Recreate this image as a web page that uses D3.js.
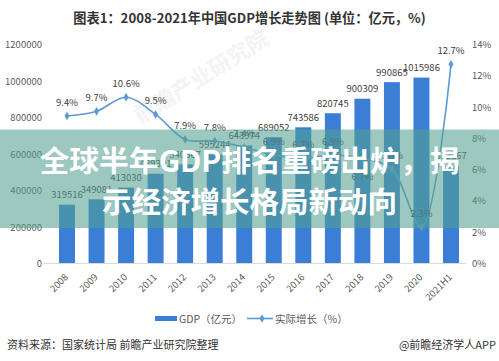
<!DOCTYPE html>
<html>
<head>
  <meta charset="UTF-8">
  <title>GDP</title>
  <script src="https://cdn.jsdelivr.net/npm/d3@7"></script>
  <style>
    body { margin: 0; background: #fff; }
    svg { display: block; font-family: "Noto Sans CJK SC", "Noto Sans", sans-serif; }
  </style>
</head>
<body>
<svg></svg>
<script>
  // data
  let years = ["2008", "2009", "2010", "2011", "2012", "2013", "2014", "2015", "2016", "2017", "2018", "2019", "2020", "2021H1"];
  let gdp = [319516, 349081, 413030, 489301, 540367, 595244, 643974, 689052, 743586, 820745, 900309, 990865, 1015986, 532167];
  let growth = [9.4, 9.7, 10.6, 9.5, 7.9, 7.8, 7.4, 6.9, 6.7, 6.9, 6.7, 6.0, 2.3, 12.7];
  let leftTicks = [0, 200000, 400000, 600000, 800000, 1000000, 1200000];
  let rightTicks = [0, 2, 4, 6, 8, 10, 12, 14];

  let width = 499, height = 361;
  let svg = d3.select("svg").attr("width", width).attr("height", height);

  let x = d3.scalePoint().domain(years).range([67, 451]);
  let barW = x.step() * 0.54;
  let yL = d3.scaleLinear().domain([0, 1200000]).range([263, 44]);
  let yR = d3.scaleLinear().domain([0, 14]).range([263, 44]);

  let barColor = "#3a7ed6", lineColor = "#5b9bd5";

  // title
  svg.append("text")
    .attr("x", 249.5).attr("y", 17.5)
    .attr("text-anchor", "middle").attr("dominant-baseline", "central")
    .style("font-size", "13.2px").style("font-weight", "bold").style("fill", "#333")
    .text("图表1：2008-2021年中国GDP增长走势图 (单位：亿元，%)");

  // faint watermark
  svg.append("text")
    .attr("transform", "translate(200,75) rotate(-32)")
    .attr("text-anchor", "middle").attr("dominant-baseline", "central")
    .style("font-size", "22px").style("font-weight", "bold").style("fill", "#f2f4f6")
    .text("前瞻产业研究院");

  // axes
  svg.append("g")
    .selectAll("text").data(leftTicks).enter().append("text")
    .attr("x", 42).attr("y", d => yL(d))
    .attr("text-anchor", "end").attr("dominant-baseline", "central")
    .style("font-size", "9.5px").style("fill", "#595959")
    .text(d => d);

  svg.append("g")
    .selectAll("text").data(rightTicks).enter().append("text")
    .attr("x", 472).attr("y", d => yR(d))
    .attr("dominant-baseline", "central")
    .style("font-size", "9.5px").style("fill", "#595959")
    .text(d => d + "%");

  svg.append("line")
    .attr("x1", 44).attr("x2", 466)
    .attr("y1", yL(0) + 0.5).attr("y2", yL(0) + 0.5)
    .style("stroke", "#d9d9d9");

  svg.append("g")
    .selectAll("text").data(years).enter().append("text")
    .attr("transform", d => "translate(" + (x(d) - 1) + ",275) rotate(-45)")
    .attr("text-anchor", "end").attr("dominant-baseline", "central")
    .style("font-size", "9.5px").style("fill", "#595959")
    .text(d => d);

  // bars
  svg.append("g")
    .selectAll("rect").data(years).enter().append("rect")
    .attr("x", d => x(d) - barW / 2)
    .attr("width", barW)
    .attr("y", (d, i) => yL(gdp[i]))
    .attr("height", (d, i) => yL(0) - yL(gdp[i]))
    .style("fill", barColor);

  svg.append("g")
    .selectAll("text").data(years).enter().append("text")
    .attr("x", d => x(d))
    .attr("y", (d, i) => yL(gdp[i]) - 10.5)
    .attr("text-anchor", "middle").attr("dominant-baseline", "central")
    .style("font-size", "9.5px").style("fill", "#404040")
    .text((d, i) => gdp[i]);

  // growth line
  let line = d3.line()
    .x((d, i) => x(years[i]))
    .y(d => yR(d))
    .curve(d3.curveCatmullRom.alpha(0.5));

  svg.append("path")
    .datum(growth)
    .attr("d", line)
    .style("fill", "none").style("stroke", lineColor).style("stroke-width", 1.6);

  svg.append("g")
    .selectAll("path").data(growth).enter().append("path")
    .attr("transform", (d, i) => "translate(" + x(years[i]) + "," + yR(d) + ")")
    .attr("d", d3.symbol().type(d3.symbolDiamond).size(22))
    .style("fill", lineColor);

  svg.append("g")
    .selectAll("text").data(growth).enter().append("text")
    .attr("x", (d, i) => x(years[i]))
    .attr("y", (d, i) => years[i] == "2018" ? yR(d) + 18 : yR(d) - 14)
    .attr("text-anchor", "middle").attr("dominant-baseline", "central")
    .style("font-size", "9.5px").style("fill", "#404040")
    .text(d => d.toFixed(1) + "%");

  // legend
  let lg = svg.append("g");
  lg.append("rect").attr("x", 155).attr("y", 316).attr("width", 22).attr("height", 5).style("fill", barColor);
  lg.append("text").attr("x", 179).attr("y", 318.5).attr("dominant-baseline", "central")
    .style("font-size", "10.5px").style("fill", "#595959").text("GDP（亿元）");
  lg.append("line").attr("x1", 247).attr("x2", 273).attr("y1", 318.5).attr("y2", 318.5)
    .style("stroke", lineColor).style("stroke-width", 1.6);
  lg.append("path").attr("transform", "translate(262,318.5)")
    .attr("d", d3.symbol().type(d3.symbolDiamond).size(22)).style("fill", lineColor);
  lg.append("text").attr("x", 275).attr("y", 318.5).attr("dominant-baseline", "central")
    .style("font-size", "10.5px").style("fill", "#595959").text("实际增长（%）");

  // source line
  svg.append("text").attr("x", 7).attr("y", 344).attr("dominant-baseline", "central")
    .style("font-size", "11px").style("fill", "#333").text("资料来源：国家统计局 前瞻产业研究院整理");
  svg.append("text").attr("x", 496).attr("y", 344).attr("text-anchor", "end").attr("dominant-baseline", "central")
    .style("font-size", "11px").style("fill", "#333").text("@前瞻经济学人APP");

  // headline band over the chart
  svg.append("rect")
    .attr("x", 0).attr("y", 129.5).attr("width", width).attr("height", 98.5)
    .style("fill", "rgb(84,161,144)").style("fill-opacity", 0.58);

  let head = ["全球半年GDP排名重磅出炉，揭", "示经济增长格局新动向"];
  let headLen = [420, 295];
  svg.append("g")
    .selectAll("text").data(head).enter().append("text")
    .attr("x", 249.5).attr("y", (d, i) => 159 + i * 41)
    .attr("text-anchor", "middle").attr("dominant-baseline", "central")
    .attr("textLength", (d, i) => headLen[i]).attr("lengthAdjust", "spacingAndGlyphs")
    .style("font-size", "29px").style("font-weight", "bold").style("fill", "#fff")
    .text(d => d);
</script>
</body>
</html>
